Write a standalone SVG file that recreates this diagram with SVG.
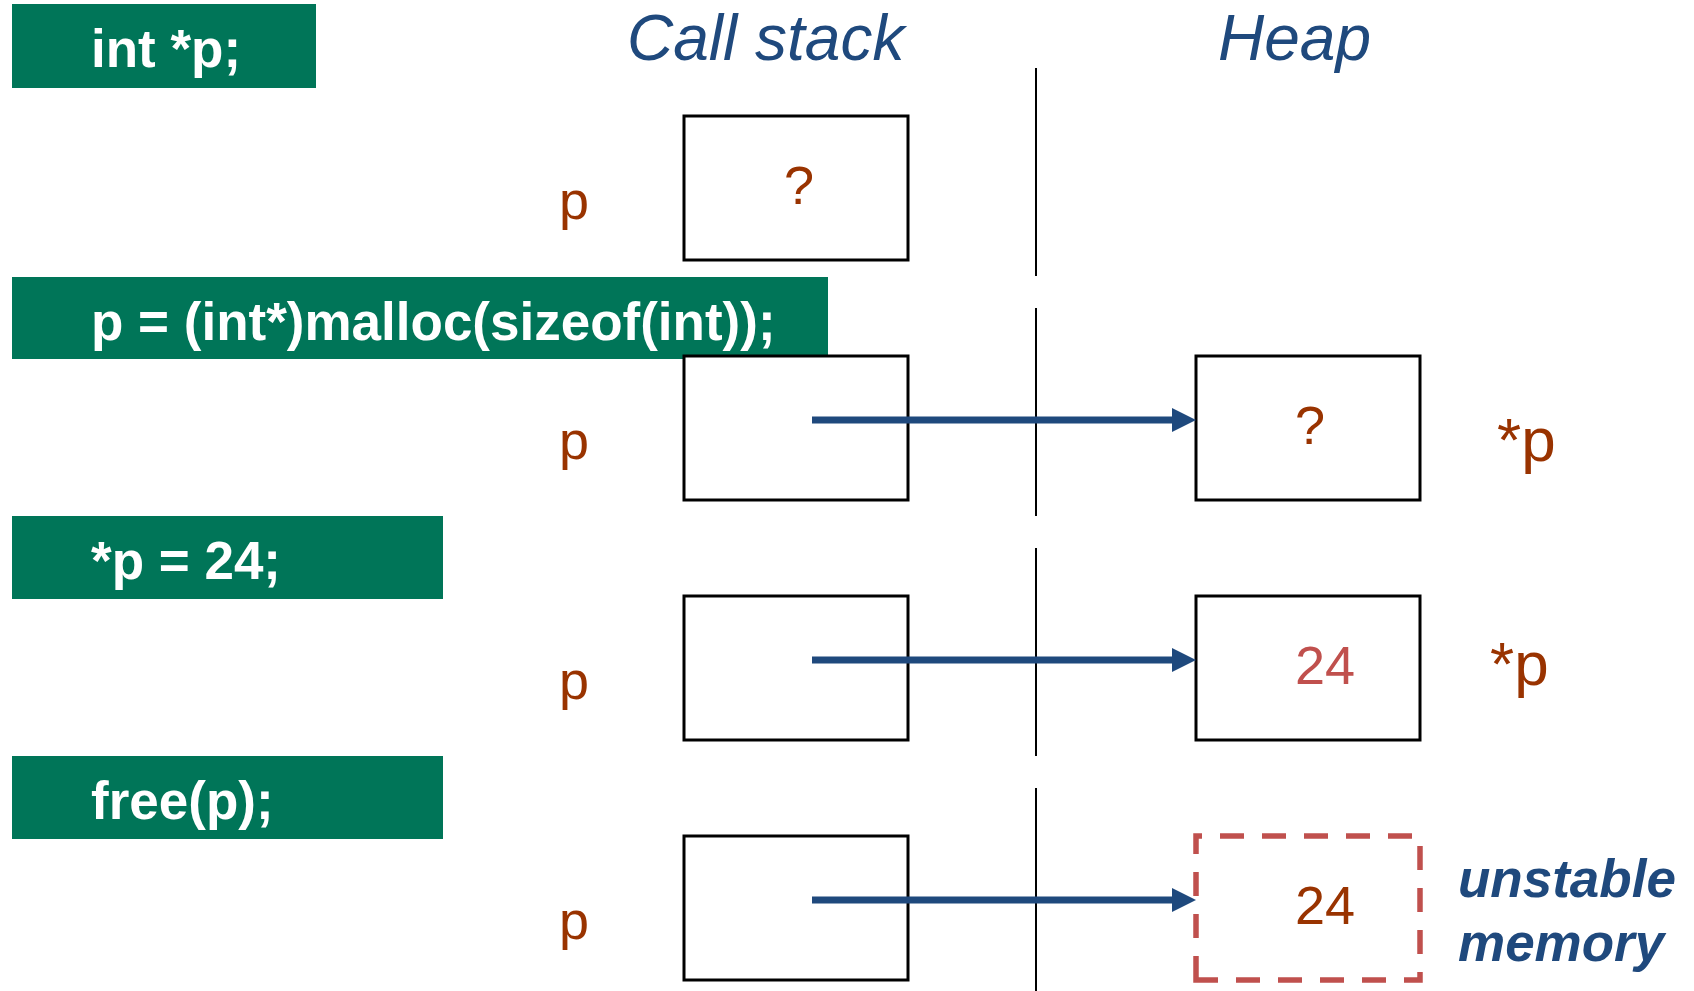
<svg xmlns="http://www.w3.org/2000/svg" width="1694" height="991" viewBox="0 0 1694 991">
  <style>
    .code { fill: #007558; }
    .code-text { font-family: "Liberation Sans", Arial, sans-serif; font-weight: bold; font-size: 53px; fill: #ffffff; }
    .header { font-family: "Liberation Sans", Arial, sans-serif; font-style: italic; font-size: 64px; fill: #1F497D; }
    .cell { fill: #ffffff; stroke: #000000; stroke-width: 3; }
    .freed { fill: none; stroke: #C0504D; stroke-width: 5.5; stroke-dasharray: 24 18; }
    .label { font-family: "Liberation Sans", Arial, sans-serif; font-size: 54px; fill: #993300; }
    .deref { font-family: "Liberation Sans", Arial, sans-serif; font-size: 62px; fill: #993300; }
    .value-new { font-family: "Liberation Sans", Arial, sans-serif; font-size: 54px; fill: #C0504D; }
    .note { font-family: "Liberation Sans", Arial, sans-serif; font-style: italic; font-weight: bold; font-size: 53px; fill: #1F497D; }
    .divider { stroke: #000000; stroke-width: 2; }
    .ptr { stroke: #1F497D; stroke-width: 7; fill: none; }
    .ptr-head { fill: #1F497D; }
  </style>

  <!-- column headers -->
  <g id="headers">
    <text class="header" x="627" y="60">Call stack</text>
    <text class="header" x="1218" y="60">Heap</text>
  </g>

  <!-- stack / heap divider, one segment per step -->
  <g id="dividers">
    <line class="divider" x1="1036" y1="68" x2="1036" y2="276"/>
    <line class="divider" x1="1036" y1="308" x2="1036" y2="516"/>
    <line class="divider" x1="1036" y1="548" x2="1036" y2="756"/>
    <line class="divider" x1="1036" y1="788" x2="1036" y2="991"/>
  </g>

  <!-- step 1: int *p; -->
  <g id="code-decl">
    <rect class="code" x="12" y="4" width="304" height="84"/>
    <text class="code-text" x="91" y="67">int *p;</text>
  </g>
  <g id="stack-p-1">
    <text class="label" x="559" y="219">p</text>
    <rect class="cell" x="684" y="116" width="224" height="144"/>
    <text class="label" x="799" y="204" text-anchor="middle">?</text>
  </g>

  <!-- step 2: malloc -->
  <g id="code-malloc">
    <rect class="code" x="12" y="277" width="816" height="82"/>
    <text class="code-text" x="91" y="340">p = (int*)malloc(sizeof(int));</text>
  </g>
  <g id="stack-p-2">
    <text class="label" x="559" y="459">p</text>
    <rect class="cell" x="684" y="356" width="224" height="144"/>
  </g>
  <g id="heap-2">
    <rect class="cell" x="1196" y="356" width="224" height="144"/>
    <text class="label" x="1310" y="444" text-anchor="middle">?</text>
    <text class="deref" x="1497" y="461">*p</text>
  </g>

  <!-- step 3: assignment -->
  <g id="code-assign">
    <rect class="code" x="12" y="516" width="431" height="83"/>
    <text class="code-text" x="91" y="579">*p = 24;</text>
  </g>
  <g id="stack-p-3">
    <text class="label" x="559" y="699">p</text>
    <rect class="cell" x="684" y="596" width="224" height="144"/>
  </g>
  <g id="heap-3">
    <rect class="cell" x="1196" y="596" width="224" height="144"/>
    <text class="value-new" x="1295" y="684">24</text>
    <text class="deref" x="1490" y="685">*p</text>
  </g>

  <!-- step 4: free -->
  <g id="code-free">
    <rect class="code" x="12" y="756" width="431" height="83"/>
    <text class="code-text" x="91" y="819">free(p);</text>
  </g>
  <g id="stack-p-4">
    <text class="label" x="559" y="939">p</text>
    <rect class="cell" x="684" y="836" width="224" height="144"/>
  </g>
  <g id="heap-4">
    <path class="freed" d="M1196,980 V836 H1420 V980 Z"/>
    <text class="label" x="1295" y="924">24</text>
    <text class="note" x="1458" y="897">unstable</text>
    <text class="note" x="1458" y="961">memory</text>
  </g>

  <!-- pointer connectors -->
  <g id="connectors">
    <line class="ptr" x1="812" y1="420" x2="1174" y2="420"/>
    <polygon class="ptr-head" points="1172,408 1196,420 1172,432"/>
    <line class="ptr" x1="812" y1="660" x2="1174" y2="660"/>
    <polygon class="ptr-head" points="1172,648 1196,660 1172,672"/>
    <line class="ptr" x1="812" y1="900" x2="1174" y2="900"/>
    <polygon class="ptr-head" points="1172,888 1196,900 1172,912"/>
  </g>
</svg>
